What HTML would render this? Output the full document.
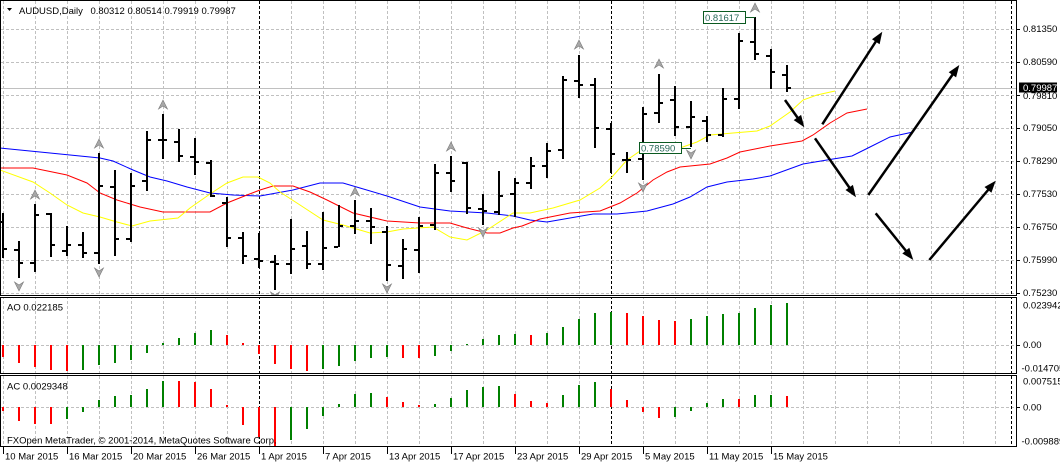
<!DOCTYPE html>
<html><head><meta charset="utf-8"><style>
html,body{margin:0;padding:0;background:#fff;}
svg{display:block;}
text{font-family:"Liberation Sans",sans-serif;font-size:9.5px;fill:#000;}
</style></head><body>
<svg width="1060" height="465" viewBox="0 0 1060 465" xmlns="http://www.w3.org/2000/svg">
<defs>
<clipPath id="cm"><rect x="1" y="1" width="1015" height="294"/></clipPath>
<clipPath id="cao"><rect x="1" y="298" width="1015" height="75"/></clipPath>
<clipPath id="cac"><rect x="1" y="376" width="1015" height="70"/></clipPath>
</defs>
<rect width="1060" height="465" fill="#fff"/>
<!-- vertical grid -->
<path stroke="#c0c0c0" stroke-width="1" stroke-dasharray="3,2" fill="none" d="M3.5,1V446M35.5,1V446M67.5,1V446M99.5,1V446M131.5,1V446M163.5,1V446M195.5,1V446M227.5,1V446M291.5,1V446M323.5,1V446M355.5,1V446M387.5,1V446M419.5,1V446M451.5,1V446M483.5,1V446M515.5,1V446M547.5,1V446M579.5,1V446M643.5,1V446M675.5,1V446M707.5,1V446M739.5,1V446M771.5,1V446M803.5,1V446M835.5,1V446M867.5,1V446M899.5,1V446M931.5,1V446M963.5,1V446M995.5,1V446"/>
<!-- horizontal grid main -->
<path stroke="#c0c0c0" stroke-width="1" stroke-dasharray="3,2" fill="none" d="M1,29.5H1016M1,62.5H1016M1,95.5H1016M1,128.5H1016M1,161.5H1016M1,194.5H1016M1,227.5H1016M1,260.5H1016M1,293.5H1016M1,345.5H1016M1,407.5H1016"/>
<!-- separators -->
<path stroke="#000" stroke-width="1" stroke-dasharray="3,2" fill="none" d="M259.5,1V446M611.5,1V446M1011.5,1V446"/>
<rect x="0" y="296" width="1017" height="1" fill="#fff"/>
<rect x="0" y="374" width="1017" height="1" fill="#fff"/>
<!-- current price line -->
<path stroke="#c0c0c0" stroke-width="1" d="M1,88.5H1016"/>

<g clip-path="url(#cm)">
<!-- MAs -->
<polyline fill="none" stroke="#0000ff" stroke-width="1" points="0,148 50,153 100,158 113,161 133,170 150,177 167,181 187,187 210,193 233,195 260,196 293,190 320,183 343,183 360,188 387,196 420,207 450,211 487,213 513,216 530,220 547,222 570,218 593,214 617,214 647,211 673,204 690,197 707,187 727,182 753,179 770,176 803,164 833,159 852,156 870,147 890,137 913,132"/>
<polyline fill="none" stroke="#ff0000" stroke-width="1" points="0,168 33,168 67,175 87,183 100,193 117,200 140,207 163,212 210,212 227,203 247,195 260,190 273,186 293,186 310,192 327,200 353,213 387,221 420,223 450,223 467,228 487,233 500,233 513,228 522,226 540,219 570,213 600,211 620,203 637,193 653,180 667,172 680,167 710,164 727,158 740,152 760,148 770,146 802,141 813,135 830,123 847,113 867,109"/>
<polyline fill="none" stroke="#ffff00" stroke-width="1" points="0,170 33,182 50,193 67,205 83,213 100,217 117,222 132,226 150,221 178,218 190,208 210,194 227,183 243,177 258,177 270,183 280,192 300,205 323,220 343,225 370,233 387,232 403,229 433,227 450,237 467,240 487,230 513,213 530,213 553,208 580,200 600,188 612,177 627,160 643,149 680,148 697,142 710,135 733,133 757,131 770,126 790,112 803,100 817,95 835,91"/>
<!-- OHLC bars -->
<path stroke="#000" stroke-width="2" fill="none" d="M3,213V258M-2,222H2M4,249H7
M19,241V278M14,250H18M20,263H23
M35,204V272M30,263H34M36,215H39
M51,213V257M46,214H50M52,245H55
M67,226V256M62,251H66M68,245H71
M83,232V258M78,245H82M84,253H87
M99,153V264M94,253H98M100,186H103
M115,170V256M110,187H114M116,239H119
M131,173V242M126,239H130M132,186H135
M147,131V191M142,181H146M148,140H151
M163,114V159M158,140H162M164,140H167
M179,129V162M174,142H178M180,156H183
M195,138V175M190,157H194M196,162H199
M211,160V197M206,163H210M212,196H215
M227,197V247M222,203H226M228,238H231
M243,232V264M238,238H242M244,256H247
M259,233V268M254,259H258M260,261H263
M275,255V290M270,262H274M276,264H279
M291,219V274M286,264H290M292,249H295
M307,231V269M302,246H306M308,264H311
M323,212V270M318,264H322M324,248H327
M339,205V247M334,247H338M340,226H343
M355,200V234M350,226H354M356,221H359
M371,208V244M366,221H370M372,227H375
M387,226V281M382,232H386M388,265H391
M403,239V279M398,266H402M404,249H407
M419,217V273M414,250H418M420,226H423
M435,164V230M430,225H434M436,173H439
M451,156V192M446,173H450M452,181H455
M467,162V214M462,163H466M468,208H471
M483,194V225M478,209H482M484,211H487
M499,171V215M494,212H498M500,196H503
M515,178V217M510,194H514M516,183H519
M531,157V189M526,183H530M532,166H535
M547,143V178M542,166H546M548,151H551
M563,76V159M558,150H562M564,80H567
M579,55V98M574,81H578M580,85H583
M595,78V148M590,85H594M596,128H599
M611,123V173M606,129H610M612,154H615
M627,152V173M622,160H626M628,160H631
M643,107V180M638,159H642M644,114H647
M659,74V123M654,113H658M660,103H663
M675,86V136M670,100H674M676,127H679
M691,101V147M686,127H690M692,117H695
M707,116V142M702,121H706M708,135H711
M723,88V137M718,135H722M724,99H727
M739,33V109M734,99H738M740,41H743
M755,17V60M750,42H754M756,54H759
M771,49V89M766,56H770M772,72H775
M787,65V92M782,75H786M788,88H791"/>
<!-- fractals up -->
<g fill="#a8a8a8" stroke="#7a7a7a" stroke-width="0.6">
<polygon points="35,190 39.5,199 35,196 30.5,199"/>
<polygon points="99,139 103.5,148 99,145 94.5,148"/>
<polygon points="163,100 167.5,109 163,106 158.5,109"/>
<polygon points="355,187 359.5,196 355,193 350.5,196"/>
<polygon points="451,142 455.5,151 451,148 446.5,151"/>
<polygon points="579,40 583.5,49 579,46 574.5,49"/>
<polygon points="659,59 663.5,68 659,65 654.5,68"/>
<polygon points="755,3 759.5,12 755,9 750.5,12"/>
<!-- fractals down -->
<polygon points="14.5,282 19,285 23.5,282 19,291"/>
<polygon points="94.5,268 99,271 103.5,268 99,277"/>
<polygon points="270.5,292 275,295 279.5,292 275,301"/>
<polygon points="382.5,284 387,287 391.5,284 387,293"/>
<polygon points="478.5,228 483,231 487.5,228 483,237"/>
<polygon points="638.5,183 643,186 647.5,183 643,192"/>
<polygon points="686.5,150 691,153 695.5,150 691,159"/>
</g>
<!-- price labels -->
<path stroke="#0a5a20" stroke-width="1" d="M681.5,148.5H691M745.5,17.5H755"/>
<rect x="639.5" y="142.5" width="42" height="11" fill="#fff" stroke="#0a5a20" stroke-width="1"/>
<text x="641" y="151.5" style="fill:#2a6a5a">0.78590</text>
<rect x="703.5" y="11.5" width="42" height="12" fill="#fff" stroke="#0a5a20" stroke-width="1"/>
<text x="705" y="21" style="fill:#2a6a5a">0.81617</text>
<!-- arrows -->
<g stroke="#000" stroke-width="2.5" fill="none">
<path d="M785,100L798.5,119"/>
<path d="M822.3,124.3L876.5,40.5"/>
<path d="M815,138.3L850,188.5"/>
<path d="M868.3,195L953,74"/>
<path d="M875.7,213.3L906.5,251.5"/>
<path d="M929.3,260L988.5,189.5"/>
</g>
<g fill="#000">
<polygon points="804.3,127.3 793.7,120.1 801.1,114.9"/>
<polygon points="882.3,31.7 879.6,44.2 872,39.3"/>
<polygon points="856,197.3 845.5,190 852.9,184.9"/>
<polygon points="959.3,65 956.1,77.4 948.7,72.2"/>
<polygon points="913.3,260 902.3,253.5 909.3,247.8"/>
<polygon points="995.7,180.7 991.4,192.8 984.5,187"/>
</g>
</g>

<!-- AO -->
<g clip-path="url(#cao)" stroke-width="2" fill="none">
<path stroke="#008000" d="M83,345V370M99,345V365M115,345V363M131,345V360M147,345V353M163,345V343M179,345V338M195,345V333M211,345V330M323,345V369M339,345V366M355,345V361M371,345V358M387,345V357M435,345V356M451,345V351M467,345V344M483,345V339M499,345V335M515,345V334M547,345V333M563,345V327M579,345V319M595,345V313M611,345V312M691,345V319M707,345V316M723,345V314M739,345V313M755,345V308M771,345V305M787,345V303"/>
<path stroke="#ff0000" d="M3,345V357M19,345V363M35,345V367M51,345V370M67,345V371M227,345V335M243,345V343M259,345V354M275,345V364M291,345V369M307,345V371M403,345V358M419,345V358M531,345V335M627,345V313M643,345V316M659,345V320M675,345V321"/>
</g>
<!-- AC -->
<g clip-path="url(#cac)" stroke-width="2" fill="none">
<path stroke="#008000" d="M67,407V419M83,407V412M99,407V400M115,407V396M131,407V395M147,407V389M163,407V381M291,407V440M307,407V429M323,407V416M339,407V404M355,407V394M371,407V393M435,407V404M451,407V398M467,407V390M483,407V387M499,407V386M563,407V395M579,407V385M595,407V382M675,407V417M691,407V411M707,407V403M723,407V399M755,407V395M771,407V395"/>
<path stroke="#ff0000" d="M3,407V411M19,407V421M35,407V424M51,407V424M179,407V381M195,407V382M211,407V389M227,407V405M243,407V425M259,407V437M275,407V446M387,407V397M403,407V402M419,407V405M515,407V394M531,407V401M547,407V403M611,407V389M627,407V400M643,407V412M659,407V418M739,407V399M787,407V396"/>
</g>

<!-- borders -->
<g stroke="#000" stroke-width="1" fill="none">
<path d="M0.5,0.5H1016.5V295.5H0.5Z"/>
<path d="M0.5,297.5H1016.5V373.5H0.5Z"/>
<path d="M0.5,375.5H1016.5V446.5H0.5Z"/>
<!-- price ticks -->
<path d="M1017,29.5H1020M1017,62.5H1020M1017,95.5H1020M1017,128.5H1020M1017,161.5H1020M1017,194.5H1020M1017,227.5H1020M1017,260.5H1020M1017,293.5H1020M1017,345.5H1020M1017,407.5H1020"/>
<!-- time ticks -->
<path d="M3.5,447V454M67.5,447V454M131.5,447V454M195.5,447V454M259.5,447V454M323.5,447V454M387.5,447V454M451.5,447V454M515.5,447V454M579.5,447V454M643.5,447V454M707.5,447V454M771.5,447V454"/>
</g>

<!-- title -->
<polygon points="7,8 12,8 9.5,11" fill="#000"/>
<text x="19" y="14">AUDUSD,Daily</text>
<text x="90.5" y="14">0.80312 0.80514 0.79919 0.79987</text>

<!-- price axis labels -->
<text x="1023" y="32">0.81350</text>
<text x="1023" y="65">0.80590</text>
<text x="1023" y="99">0.79810</text>
<text x="1023" y="131">0.79050</text>
<text x="1023" y="164">0.78290</text>
<text x="1023" y="197">0.77530</text>
<text x="1023" y="230">0.76750</text>
<text x="1023" y="263">0.75990</text>
<text x="1023" y="296">0.75230</text>
<rect x="1019" y="82.5" width="38" height="10" fill="#000"/>
<text x="1023" y="91" style="fill:#fff">0.79987</text>

<!-- AO / AC labels -->
<text x="7" y="310.5">AO 0.022185</text>
<text x="1023" y="308.5">0.023942</text>
<text x="1023" y="348">0.00</text>
<text x="1021.5" y="371.5">-0.014705</text>
<text x="7" y="389.5">AC 0.0029348</text>
<text x="1023" y="384.5">0.007515</text>
<text x="1023" y="410.5">0.00</text>
<text x="1021.5" y="444.5">-0.009889</text>
<text x="7" y="443.5">FXOpen MetaTrader, © 2001-2014, MetaQuotes Software Corp.</text>

<!-- time axis labels -->
<text x="5" y="459.5">10 Mar 2015</text>
<text x="69" y="459.5">16 Mar 2015</text>
<text x="133" y="459.5">20 Mar 2015</text>
<text x="197" y="459.5">26 Mar 2015</text>
<text x="261" y="459.5">1 Apr 2015</text>
<text x="325" y="459.5">7 Apr 2015</text>
<text x="389" y="459.5">13 Apr 2015</text>
<text x="453" y="459.5">17 Apr 2015</text>
<text x="517" y="459.5">23 Apr 2015</text>
<text x="581" y="459.5">29 Apr 2015</text>
<text x="645" y="459.5">5 May 2015</text>
<text x="709" y="459.5">11 May 2015</text>
<text x="773" y="459.5">15 May 2015</text>
</svg>
</body></html>
